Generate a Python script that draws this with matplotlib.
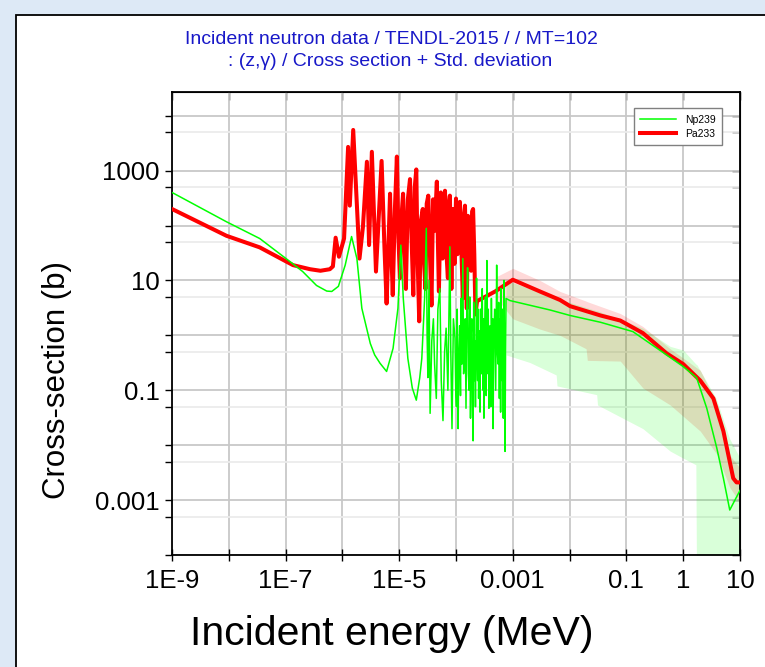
import numpy as np
import matplotlib
matplotlib.use('Agg')
import matplotlib.pyplot as plt
from matplotlib.patches import Rectangle
from matplotlib.ticker import FixedLocator, FixedFormatter, NullFormatter

plt.rcParams['font.family'] = ['Liberation Sans', 'DejaVu Sans']

# Pa233 capture cross section (MeV, barn)
pa233_e = [1e-9, 9.1e-9, 3.5e-8, 1.35e-7, 2.7e-7, 4.1e-7, 6.0e-7, 6.8e-7, 7.6e-7, 8.7e-7,
           1.07e-6, 1.26e-6, 1.35e-6, 1.55e-6, 2.0e-6, 2.3e-6, 2.7e-6, 2.95e-6, 3.3e-6, 3.9e-6,
           4.9e-6, 5.5e-6, 6.0e-6, 6.9e-6, 7.3e-6, 7.7e-6, 8.4e-6, 9.1e-6, 9.7e-6, 1.03e-5,
           1.1e-5, 1.17e-5, 1.24e-5, 1.31e-5, 1.42e-5, 1.55e-5, 1.65e-5, 1.77e-5, 1.88e-5, 2.0e-5,
           2.1e-5, 2.25e-5, 2.4e-5, 2.6e-5, 2.75e-5, 2.9e-5, 3.05e-5, 3.25e-5, 3.45e-5, 3.7e-5,
           3.95e-5, 4.2e-5, 4.6e-5, 4.8e-5, 5.0e-5, 5.4e-5, 5.8e-5, 6.1e-5, 6.4e-5, 6.8e-5,
           7.2e-5, 7.5e-5, 7.8e-5, 8.1e-5, 8.3e-5, 8.8e-5, 9.4e-5, 1.0e-4, 1.06e-4, 1.12e-4,
           1.17e-4, 1.24e-4, 1.32e-4, 1.38e-4, 1.44e-4, 1.5e-4, 1.55e-4, 1.62e-4, 1.7e-4, 1.78e-4,
           1.85e-4, 1.92e-4, 2.0e-4, 2.1e-4, 2.2e-4, 2.35e-4, 4.9e-4, 1.0e-3, 3.0e-3, 6.8e-3,
           1.02e-2, 3.5e-2, 7.8e-2, 0.195, 0.51, 1.0, 2.0, 3.4, 5.1, 7.6,
           8.7, 10.0]
pa233_xs = [200, 65, 40, 19, 16, 15, 16, 18, 60, 27,
            58, 2700, 230, 5500, 25, 95, 1450, 44, 2200, 14.5,
            1500, 40, 3.8, 380, 30, 5.4, 200, 1800, 60, 11,
            150, 380, 40, 7, 300, 700, 60, 5.4, 500, 1050,
            30, 1.8, 120, 200, 20, 7, 250, 350, 40, 3.5,
            300, 80, 630, 50, 6.3, 400, 25, 150, 430, 30,
            11, 250, 350, 40, 7, 200, 20, 310, 30, 120,
            270, 40, 4.7, 150, 230, 20, 3.1, 150, 40, 90,
            15, 180, 200, 30, 2.4, 4.2, 6.3, 10.3, 6.3, 4.4,
            3.4, 2.3, 1.86, 1.1, 0.47, 0.30, 0.15, 0.071, 0.018, 0.0025,
            0.0021, 0.0021]

# Np239 capture cross section (MeV, barn): thermal + first resonances
np239_low_e = [1e-9, 9.1e-9, 3.5e-8, 1.35e-7, 2.0e-7, 3.5e-7, 5.3e-7, 6.5e-7, 8.5e-7, 1.12e-6,
               1.45e-6, 1.8e-6, 2.2e-6, 3.1e-6, 3.7e-6, 4.6e-6, 6.0e-6, 7.8e-6, 9.5e-6, 1.07e-5,
               1.18e-5, 1.42e-5, 1.7e-5, 2.0e-5, 2.3e-5, 2.5e-5, 2.8e-5, 3.0e-5, 3.1e-5, 3.2e-5,
               3.35e-5, 3.5e-5, 3.75e-5, 4.0e-5, 4.2e-5, 4.5e-5, 4.8e-5, 5.2e-5, 5.5e-5, 5.9e-5,
               6.3e-5, 6.7e-5, 7.2e-5, 7.8e-5, 8.1e-5, 8.5e-5, 9.0e-5]
np239_low_xs = [400, 117, 58, 20, 14.5, 8.1, 6.4, 6.3, 7.8, 19,
                63, 25, 3.1, 0.71, 0.44, 0.31, 0.22, 0.58, 3.1, 44,
                4.7, 0.38, 0.11, 0.066, 0.17, 0.38, 4.7, 89, 1.0, 0.17,
                10, 0.038, 0.8, 2.0, 0.3, 0.071, 3, 7.1, 0.15, 0.028,
                0.5, 1.35, 0.1, 41, 0.5, 0.020, 2]

# Np239: dense resonance forest
np239_res_e = [9.6e-5, 9.9e-5, 1.02e-4, 1.05e-4, 1.09e-4, 1.12e-4, 1.16e-4, 1.2e-4, 1.23e-4, 1.27e-4,
               1.32e-4, 1.36e-4, 1.4e-4, 1.45e-4, 1.5e-4, 1.55e-4, 1.6e-4, 1.65e-4, 1.7e-4, 1.75e-4,
               1.8e-4, 1.85e-4, 1.9e-4, 1.95e-4, 2.0e-4, 2.05e-4, 2.1e-4, 2.15e-4, 2.2e-4, 2.3e-4,
               2.35e-4, 2.4e-4, 2.45e-4, 2.5e-4, 2.6e-4, 2.65e-4, 2.7e-4, 2.8e-4, 2.9e-4, 2.95e-4,
               3.0e-4, 3.05e-4, 3.1e-4, 3.2e-4, 3.3e-4, 3.4e-4, 3.5e-4, 3.55e-4, 3.65e-4, 3.7e-4,
               3.8e-4, 3.9e-4, 4.0e-4, 4.1e-4, 4.2e-4, 4.3e-4, 4.35e-4, 4.45e-4, 4.5e-4, 4.6e-4,
               4.8e-4, 5.0e-4, 5.2e-4, 5.35e-4, 5.5e-4, 5.65e-4, 5.8e-4, 5.9e-4, 6.0e-4, 6.1e-4,
               6.2e-4, 6.35e-4, 6.5e-4, 6.65e-4, 6.8e-4, 6.9e-4, 7.0e-4, 7.15e-4, 7.3e-4, 7.45e-4]
np239_res_xs = [0.89, 0.1, 0.05, 3, 0.020, 0.4, 1.5, 0.08, 4.7, 0.3,
                25, 0.2, 0.3, 2, 0.047, 3, 17, 0.2, 0.1, 5,
                0.031, 1, 2, 0.06, 0.012, 4, 0.15, 0.8, 0.05, 11,
                0.5, 0.15, 3, 0.071, 1.2, 0.04, 3, 0.2, 7.1, 0.5,
                0.1, 2, 0.031, 1, 5, 0.08, 23, 0.6, 0.2, 3,
                0.047, 0.9, 1.5, 0.05, 4.7, 0.4, 0.1, 2, 0.020, 0.6,
                3, 0.1, 19, 0.5, 0.3, 4, 0.071, 1, 2, 0.04,
                7.1, 0.3, 0.15, 3, 0.031, 1, 10, 0.2, 0.0077, 0.5]

# Np239: fast region
np239_fast_e = [7.6e-4, 8.9e-4, 4.5e-3, 1.02e-2, 3.5e-2, 0.13, 0.51, 1.0, 1.72, 2.6,
                3.9, 5.1, 6.6, 10.0]
np239_fast_xs = [4.7, 4.3, 2.9, 2.3, 1.73, 1.17, 0.44, 0.27, 0.17, 0.047,
                 0.0089, 0.0025, 6.6e-4, 1.5e-3]

np239_e = np239_low_e + np239_res_e + np239_fast_e
np239_xs = np239_low_xs + np239_res_xs + np239_fast_xs

# std. deviation bands
pa233_band_e = [5.2e-4, 1.0e-3, 3.0e-3, 6.8e-3, 1.95e-2, 2.05e-2, 7.8e-2, 0.195, 0.59, 2.0, 4.0, 6.6, 10.0]
pa233_band_hi = [11.8, 16.6, 10, 6.3, 4.2, 4.1, 2.5, 1.45, 0.57, 0.23, 0.054, 0.0066, 0.0038]
pa233_band_lo = [4.7, 2.0, 1.3, 1.0, 0.57, 0.35, 0.34, 0.11, 0.054, 0.018, 0.0066, 0.0017, 9e-4]

np239_band_e = [7.6e-4, 2.0e-3, 5.8e-3, 6.0e-3, 3.0e-2, 3.1e-2, 0.195, 0.59, 1.0, 1.67, 1.75, 3.8, 6.6, 10.0]
np239_band_hi = [10, 7.1, 4.7, 4.7, 2.8, 2.8, 1.35, 0.63, 0.54, 0.30, 0.29, 0.071, 0.013, 0.0058]
np239_band_lo = [0.44, 0.32, 0.19, 0.12, 0.083, 0.054, 0.020, 0.0078, 0.0058, 0.0044, 1e-6, 1e-6, 1e-6, 1e-6]

x_ticks = [1e-9, 1e-8, 1e-7, 1e-6, 1e-5, 1e-4, 1e-3, 1e-2, 1e-1, 1, 10]
x_labels = ['1E-9', '', '1E-7', '', '1E-5', '', '0.001', '', '0.1', '1', '10']
y_ticks = [1e-4, 1e-3, 1e-2, 1e-1, 1, 10, 100, 1000, 1e4]
y_labels = ['', '0.001', '', '0.1', '', '10', '', '1000', '']
y_minor = [5e-4, 5e-3, 5e-2, 0.5, 5, 50, 500, 5000]

fig = plt.figure(figsize=(7.65, 6.67), dpi=100, facecolor='#dde9f6')
fig.patches.append(Rectangle((16 / 765, -0.1), 1.2, 1.1 - 15 / 667, transform=fig.transFigure,
                             facecolor='white', edgecolor='black', lw=1.3, zorder=-5))

ax = fig.add_axes([172 / 765, 112 / 667, 568 / 765, 463 / 667])
ax.set_zorder(2)
ax.set_xscale('log')
ax.set_yscale('log')

ax.fill_between(pa233_band_e, pa233_band_lo, pa233_band_hi, color='red', alpha=0.15, lw=0, zorder=2)
ax.fill_between(np239_band_e, np239_band_lo, np239_band_hi, color='#00ff00', alpha=0.15, lw=0, zorder=2)
ax.plot(pa233_e, pa233_xs, color='red', lw=2.9, label='Pa233', zorder=3)
ax.plot(np239_e, np239_xs, color='#00ff00', lw=1.1, label='Np239', zorder=4)

ax.set_xlim(1e-9, 10)
ax.set_ylim(1e-4, 2.7e4)

ax.xaxis.set_major_locator(FixedLocator(x_ticks))
ax.xaxis.set_major_formatter(FixedFormatter(x_labels))
ax.xaxis.set_minor_locator(FixedLocator([]))
ax.yaxis.set_major_locator(FixedLocator(y_ticks))
ax.yaxis.set_major_formatter(FixedFormatter(y_labels))
ax.yaxis.set_minor_locator(FixedLocator(y_minor))
ax.yaxis.set_minor_formatter(NullFormatter())

ax.grid(True, which='major', color='#c8c8c8', lw=1.3, zorder=1)
ax.grid(True, which='minor', axis='y', color='#ececec', lw=1.3, zorder=1)
ax.set_axisbelow(True)

ax.tick_params(axis='x', which='both', direction='inout', length=8, width=1, top=False, pad=6,
               labelsize=18.5)
ax.tick_params(axis='y', which='both', direction='out', length=5, width=1, right=False, pad=4,
               labelsize=18.5)
for sp in ax.spines.values():
    sp.set_linewidth(1.3)

# inward ticks on the top and right edges
secx = ax.secondary_xaxis('top')
secx.xaxis.set_major_locator(FixedLocator(x_ticks))
secx.xaxis.set_minor_locator(FixedLocator([]))
secx.xaxis.set_major_formatter(NullFormatter())
secx.tick_params(direction='in', length=6, width=1)
secy = ax.secondary_yaxis('right')
secy.yaxis.set_major_locator(FixedLocator(y_ticks))
secy.yaxis.set_minor_locator(FixedLocator(y_minor))
secy.yaxis.set_major_formatter(NullFormatter())
secy.yaxis.set_minor_formatter(NullFormatter())
secy.tick_params(which='both', direction='in', length=6, width=1)

leg = ax.legend(handles=[ax.lines[1], ax.lines[0]], loc='upper right', bbox_to_anchor=(0.977, 0.976),
                fontsize=7.5, fancybox=False, edgecolor='#808080', framealpha=1, handlelength=3.5,
                borderpad=0.6, labelspacing=0.4)
leg.get_frame().set_linewidth(1)

fig.text(391 / 765, 1 - 40 / 667, 'Incident neutron data / TENDL-2015 / / MT=102',
         ha='center', va='center', color='#1818c8', fontsize=14)
fig.text(390 / 765, 1 - 61 / 667, ': (z,\u03b3) / Cross section + Std. deviation',
         ha='center', va='center', color='#1818c8', fontsize=14)
fig.text(57 / 765, 1 - 380 / 667, 'Cross-section (b)', rotation=90, ha='center', va='center',
         fontsize=22.5)
fig.text(392 / 765, 1 - 634 / 667, 'Incident energy (MeV)', ha='center', va='center',
         fontsize=29.5)

fig.savefig('out.png', dpi=100, facecolor=fig.get_facecolor())
